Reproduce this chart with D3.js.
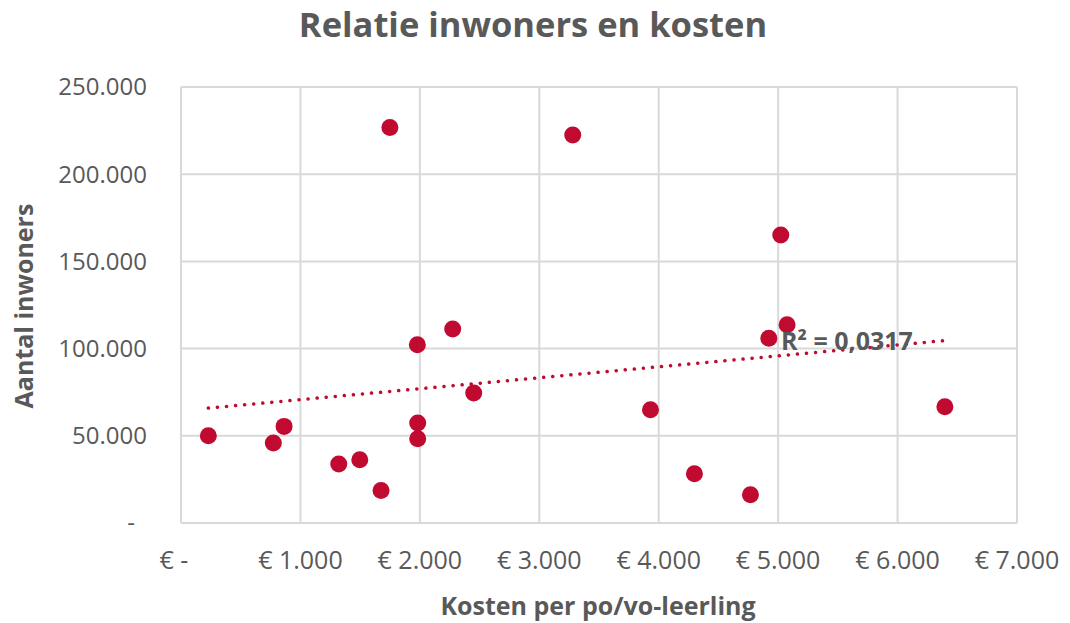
<!DOCTYPE html>
<html>
<head>
<meta charset="utf-8">
<script src="https://cdn.jsdelivr.net/npm/d3@7"></script>
<style>
  body { margin: 0; background: #fff; }
  text { font-family: "Open Sans", sans-serif; }
</style>
</head>
<body>
<div id="chart"></div>
<script>
// kosten per po/vo-leerling (euro) and aantal inwoners
var kosten = [229, 773, 863, 1321, 1497, 1675, 1749, 1979, 2275, 1982, 1982, 2451,
              3280, 3931, 4299, 4768, 4922, 5022, 5075, 6396];
var inwoners = [50000, 45900, 55400, 33800, 36300, 18700, 226800, 102200, 111200, 57300,
                48300, 74500, 222500, 65000, 28300, 16200, 105900, 165100, 113700, 66700];

var xTicks = [0, 1000, 2000, 3000, 4000, 5000, 6000, 7000];
var yTicks = [0, 50000, 100000, 150000, 200000, 250000];
var r2Label = "R² = 0,0317";

var width = 1070, height = 623;
var margin = {top: 87, right: 53, bottom: 100, left: 181};

var svg = d3.select("#chart").append("svg")
    .attr("width", width)
    .attr("height", height);

var x = d3.scaleLinear().domain([0, 7000]).range([margin.left, width - margin.right]);
var y = d3.scaleLinear().domain([0, 250000]).range([height - margin.bottom, margin.top]);

var grey = "#d9d9d9", textCol = "#595959", red = "#c00a30";

function nl(v) { return d3.format(",")(v).replace(/,/g, "."); }

// gridlines
svg.append("g").selectAll("line").data(xTicks).enter().append("line")
    .attr("x1", d => x(d)).attr("x2", d => x(d))
    .attr("y1", y(0)).attr("y2", y(250000))
    .attr("stroke", grey).attr("stroke-width", 2);
svg.append("g").selectAll("line").data(yTicks).enter().append("line")
    .attr("x1", x(0)).attr("x2", x(7000))
    .attr("y1", d => y(d)).attr("y2", d => y(d))
    .attr("stroke", grey).attr("stroke-width", 2);

// y labels
svg.append("g").selectAll("text").data(yTicks).enter().append("text")
    .attr("x", 147).attr("y", d => y(d)).attr("dy", "0.35em")
    .attr("text-anchor", "end")
    .attr("font-size", 24).attr("fill", textCol)
    .text(d => d === 0 ? "-" : nl(d))
    .attr("dx", d => d === 0 ? -12 : 0);

// x labels
svg.append("g").selectAll("text").data(xTicks).enter().append("text")
    .attr("x", d => d === 0 ? x(d) - 7 : x(d)).attr("y", 569)
    .attr("text-anchor", "middle")
    .attr("font-size", 25).attr("fill", textCol)
    .text(d => d === 0 ? "€ -" : "€ " + nl(d));

// trendline (least squares)
var mx = d3.mean(kosten), my = d3.mean(inwoners);
var sxy = d3.sum(kosten, (k, i) => (k - mx) * (inwoners[i] - my));
var sxx = d3.sum(kosten, k => (k - mx) * (k - mx));
var slope = sxy / sxx, icpt = my - slope * mx;
var x0 = d3.min(kosten), x1 = d3.max(kosten);

// points
svg.append("g").selectAll("circle").data(kosten).enter().append("circle")
    .attr("cx", d => x(d)).attr("cy", (d, i) => y(inwoners[i]))
    .attr("r", 8.5).attr("fill", red);

svg.append("line")
    .attr("x1", x(x0)).attr("y1", y(icpt + slope * x0))
    .attr("x2", x(x1)).attr("y2", y(icpt + slope * x1))
    .attr("stroke", red).attr("stroke-width", 3.5)
    .attr("stroke-linecap", "round")
    .attr("stroke-dasharray", "0.1 9");

svg.append("text")
    .attr("x", 781).attr("y", 350)
    .attr("font-size", 25).attr("font-weight", 700).attr("fill", textCol)
    .text(r2Label);

// titles
svg.append("text")
    .attr("x", 533).attr("y", 37)
    .attr("text-anchor", "middle")
    .attr("font-size", 34.5).attr("font-weight", 700).attr("fill", textCol)
    .text("Relatie inwoners en kosten");

svg.append("text")
    .attr("x", 598).attr("y", 615)
    .attr("text-anchor", "middle")
    .attr("font-size", 25).attr("font-weight", 700).attr("fill", textCol)
    .text("Kosten per po/vo-leerling");

svg.append("text")
    .attr("transform", "translate(33," + 306 + ") rotate(-90)")
    .attr("text-anchor", "middle")
    .attr("font-size", 25).attr("font-weight", 700).attr("fill", textCol)
    .text("Aantal inwoners");
</script>
</body>
</html>
